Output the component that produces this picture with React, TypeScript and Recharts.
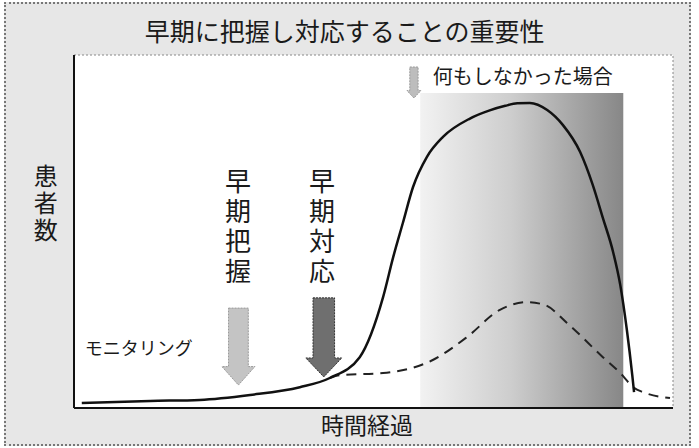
import { ComposedChart, Line, XAxis, YAxis, ReferenceArea, ReferenceDot } from "recharts";

// solid curve: what happens with no early action
const solidT = [1.3, 12.7, 21.0, 29.4, 37.7, 42.7, 47.7, 51.6, 53.3, 54.9, 56.6, 58.9, 61.6, 66.1, 69.4, 72.0, 74.0, 76.1, 79.0, 81.6, 84.5, 86.6, 88.3, 90.0, 91.2, 92.3, 93.2, 93.5];
const solidCases = [1.4, 2.0, 2.3, 3.7, 5.9, 8.5, 14.4, 31.4, 42.8, 52.4, 62.6, 71.1, 76.8, 82.0, 84.3, 85.6, 86.3, 86.4, 84.4, 80.2, 72.5, 63.2, 53.8, 44.2, 34.8, 22.1, 9.3, 4.5];

// dashed curve: with early detection and response
const dashedT = [42.7, 44.4, 51.6, 59.9, 65.6, 71.1, 75.6, 78.6, 82.3, 88.3, 91.2, 93.5, 95.0, 99.5];
const dashedCases = [8.5, 9.3, 9.9, 13.6, 20.1, 27.8, 30.0, 29.2, 24.1, 14.4, 9.9, 5.7, 4.5, 2.8];

const title = "早期に把握し対応することの重要性";
const yLabel = "患者数";
const xLabel = "時間経過";
const noActionLabel = "何もしなかった場合";
const monitoringLabel = "モニタリング";
const detectLabel = "早期把握";
const respondLabel = "早期対応";

const solidData = solidT.map((t, i) => ({ t, cases: solidCases[i] }));
const dashedData = dashedT.map((t, i) => ({ t, cases: dashedCases[i] }));

const FONT = '"Noto Sans CJK JP", "Noto Sans", sans-serif';
// latin font first keeps the line box tight, kanji fall back to Noto CJK
const STACK_FONT = '"Liberation Sans", "Noto Sans CJK JP", sans-serif';

function Arrow(props: any) {
  const { x, y, width, height, fill, stroke } = props;
  const bw = width * 0.6;
  const bx = x + (width - bw) / 2;
  const hy = y + height * 0.76;
  const pts = [
    [bx, y],
    [bx + bw, y],
    [bx + bw, hy],
    [x + width, hy],
    [x + width / 2, y + height],
    [x, hy],
    [bx, hy],
  ]
    .map((p) => p.join(","))
    .join(" ");
  return <polygon points={pts} fill={fill} stroke={stroke} strokeWidth={1} strokeDasharray="2 1" />;
}

// stacked characters, cx/cy = centre of the first one
function vText(text: string, size: number, step: number) {
  return (p: any) => (
    <g>
      {text.split("").map((c, i) => (
        <text
          key={i}
          x={p.cx}
          y={p.cy + i * step}
          textAnchor="middle"
          dominantBaseline="central"
          fontSize={size}
          fontFamily={STACK_FONT}
          fill="#1a1a1a"
        >
          {c}
        </text>
      ))}
    </g>
  );
}

function hText(text: string, size: number, anchor: "start" | "middle") {
  return (p: any) => (
    <text
      x={p.cx}
      y={p.cy}
      textAnchor={anchor}
      dominantBaseline="central"
      fontSize={size}
      fontFamily={FONT}
      fill="#1a1a1a"
    >
      {text}
    </text>
  );
}

export default function App() {
  return (
    <div style={{ position: "absolute", left: 0, top: 0, width: 699, height: 448, background: "#fff" }}>
      <div
        style={{
          position: "absolute",
          left: 4,
          top: 2,
          width: 683,
          height: 440,
          background: "#e7e7e7",
          border: "2px dotted #777",
        }}
      />
      <div style={{ position: "absolute", left: 0, top: 0 }}>
        <ComposedChart width={699} height={448} margin={{ top: 55, right: 26, bottom: 0, left: 0 }}>
          <defs>
            <linearGradient id="noActionGrad" x1="0" y1="0" x2="1" y2="0">
              <stop offset="0%" stopColor="#f2f2f2" />
              <stop offset="45%" stopColor="#cdcdcd" />
              <stop offset="100%" stopColor="#878787" />
            </linearGradient>
          </defs>
          <XAxis
            type="number"
            dataKey="t"
            domain={[0, 100]}
            tick={false}
            tickLine={false}
            height={40}
            axisLine={{ stroke: "#111", strokeWidth: 2 }}
          />
          <YAxis
            type="number"
            domain={[0, 100]}
            tick={false}
            tickLine={false}
            width={74}
            axisLine={{ stroke: "#111", strokeWidth: 2 }}
          />
          <ReferenceArea x1={0} x2={100} y1={0} y2={100} fill="#fff" fillOpacity={1} stroke="#888" strokeDasharray="2 2" />
          <ReferenceArea x1={57.8} x2={91.7} y1={0} y2={89.2} fill="url(#noActionGrad)" fillOpacity={1} />
          <ReferenceArea x1={24.7} x2={30.2} y1={6.5} y2={28.3} fill="#c4c4c4" fillOpacity={1} stroke="#999" shape={Arrow} />
          <ReferenceArea x1={38.7} x2={44.7} y1={8.8} y2={31.2} fill="#6f6f6f" fillOpacity={1} stroke="#333" shape={Arrow} />
          <ReferenceArea x1={55.6} x2={57.9} y1={87.8} y2={96.6} fill="#bdbdbd" fillOpacity={1} stroke="#999" shape={Arrow} />
          <Line
            data={dashedData}
            dataKey="cases"
            type="monotone"
            stroke="#222"
            strokeWidth={2}
            strokeDasharray="10 7"
            dot={false}
            activeDot={false}
            isAnimationActive={false}
          />
          <Line
            data={solidData}
            dataKey="cases"
            type="monotone"
            stroke="#111"
            strokeWidth={2.5}
            dot={false}
            activeDot={false}
            isAnimationActive={false}
          />
          <ReferenceDot x={45.2} y={107.1} r={0} ifOverflow="visible" shape={hText(title, 25, "middle")} />
          <ReferenceDot x={-4.7} y={65.7} r={0} ifOverflow="visible" shape={vText(yLabel, 24, 27)} />
          <ReferenceDot x={48.9} y={-4.5} r={0} ifOverflow="visible" shape={hText(xLabel, 23, "middle")} />
          <ReferenceDot x={59.9} y={94.3} r={0} ifOverflow="visible" shape={hText(noActionLabel, 20, "start")} />
          <ReferenceDot x={1.8} y={17.3} r={0} ifOverflow="visible" shape={hText(monitoringLabel, 18, "start")} />
          <ReferenceDot x={27.4} y={64.0} r={0} ifOverflow="visible" shape={vText(detectLabel, 26, 30)} />
          <ReferenceDot x={41.4} y={64.0} r={0} ifOverflow="visible" shape={vText(respondLabel, 26, 30)} />
        </ComposedChart>
      </div>
    </div>
  );
}
